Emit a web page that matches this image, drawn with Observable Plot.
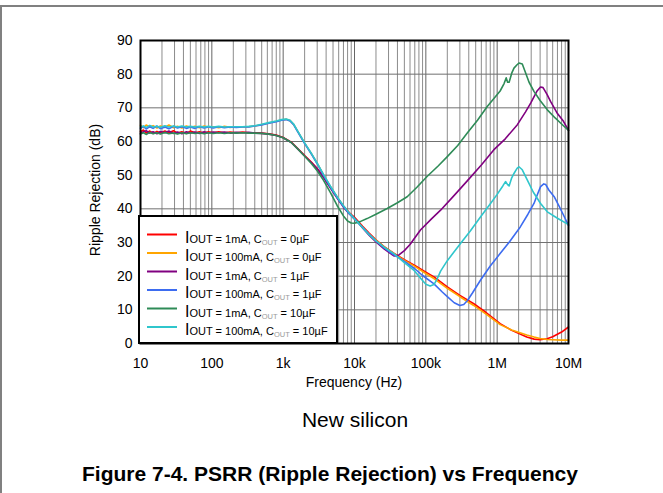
<!DOCTYPE html>
<html>
<head>
<meta charset="utf-8">
<script src="https://cdn.jsdelivr.net/npm/d3@7"></script>
<script src="https://cdn.jsdelivr.net/npm/@observablehq/plot@0.6"></script>
<style>
  body { margin: 0; background: #fff; }
  #wrap { position: relative; width: 663px; height: 493px; overflow: hidden; font-family: "Liberation Sans", Arial, sans-serif; }
  #chart { position: absolute; left: 0; top: 0; }
  #sub { position: absolute; left: 155px; width: 400px; top: 409px; text-align: center; font-size: 21px; line-height: 21px; color: #000; }
  #cap { position: absolute; left: 0; width: 660px; top: 463px; text-align: center; font-size: 21px; line-height: 21px; font-weight: bold; color: #000; }
  #border { position: absolute; left: 0; top: 5px; width: 663px; height: 488px; border-top: 2px solid #808080; border-left: 2px solid #808080; box-sizing: border-box; pointer-events: none; }
</style>
</head>
<body>
<div id="wrap">
  <div id="chart"></div>
  <div id="sub">New silicon</div>
  <div id="cap">Figure 7-4. PSRR (Ripple Rejection) vs Frequency</div>
  <div id="border"></div>
</div>
<script>
// ---- tick definitions ----
const xTicks = [10, 100, 1e3, 1e4, 1e5, 1e6, 1e7];
const xTickLabels = ["10", "100", "1k", "10k", "100k", "1M", "10M"];
const yTicks = [0, 10, 20, 30, 40, 50, 60, 70, 80, 90];

// ---- series (legend order) ----
const seriesIout = ["1mA", "100mA", "1mA", "100mA", "1mA", "100mA"];
const seriesCout = ["0µF", "0µF", "1µF", "1µF", "10µF", "10µF"];
const seriesColors = ["#ff0000", "#ffa500", "#800080", "#3d6cf0", "#2e8b57", "#2fc6cc"];

// [frequency Hz, ripple rejection dB]
const red = [
  [10,62.9],[11,63.4],[12,62.5],[13.5,63.1],[15,62.4],[17,63.0],[19,62.5],[22,63.1],[25,62.6],[29,63.2],
  [33,62.5],[38,62.9],[44,62.4],[50,63.1],[58,62.6],[67,62.9],[78,62.5],[90,62.9],[105,62.6],[125,62.9],
  [150,62.6],[180,62.8],[220,62.6],[270,62.8],[330,62.6],[400,62.6],[500,62.5],[630,62.3],[800,61.9],[1000,61.2],
  [1300,59.8],[1600,57.9],[2000,55.8],[2500,53.8],[3000,52.0],[3700,49.4],[4600,46.4],[5700,43.4],[7000,40.8],[8500,38.8],
  [10000,37.5],[13000,34.8],[16000,32.8],[20000,30.8],[26000,28.8],[35000,26.9],[50000,24.9],[70000,23.2],[100000,21.2],[130000,19.8],
  [200000,16.8],[300000,14.3],[470000,11.8],[700000,9.2],[1100000,5.9],[1600000,3.9],[2600000,1.9],[3300000,1.3],[4000000,1.1],[5000000,1.4],
  [6000000,2.0],[8000000,3.4],[10000000,4.9]
];
const orange = [
  [10,64.8],[11,64.1],[12,64.9],[13.5,64.3],[15,64.7],[17,64.0],[19,64.6],[22,64.2],[25,64.9],[29,64.1],
  [33,64.5],[38,64.0],[44,64.6],[50,64.2],[58,64.5],[67,64.1],[78,64.6],[90,64.2],[105,64.4],[125,64.1],
  [150,64.5],[180,64.2],[220,64.4],[270,64.3],[330,64.4],[400,64.6],[500,65.0],[630,65.5],[800,66.0],[950,66.4],
  [1100,66.6],[1250,66.2],[1400,65.1],[1600,63.0],[2000,59.5],[2500,56.3],[3000,53.5],[3700,50.0],[4600,46.6],[5700,43.5],
  [7000,40.8],[8500,38.6],[10000,37.0],[13000,34.6],[16000,32.6],[20000,30.7],[26000,28.7],[35000,26.8],[50000,24.7],[70000,22.9],
  [100000,20.8],[130000,19.3],[200000,16.4],[300000,13.9],[470000,11.3],[700000,8.7],[1100000,5.6],[1600000,4.0],[2600000,2.5],[3300000,1.9],
  [4000000,1.5],[5000000,1.2],[6000000,1.1],[8000000,1.0],[10000000,1.0]
];
const purple = [
  [10,62.4],[11,62.9],[12,63.2],[13.5,62.5],[15,62.9],[17,62.3],[19,63.0],[22,62.6],[25,63.1],[29,62.4],
  [33,62.8],[38,62.3],[44,62.9],[50,62.5],[58,62.8],[67,62.4],[78,62.9],[90,62.5],[105,62.8],[125,62.6],
  [150,62.8],[180,62.5],[220,62.7],[270,62.6],[330,62.7],[400,62.5],[500,62.4],[630,62.2],[800,61.8],[1000,61.1],
  [1300,59.7],[1600,57.8],[2000,55.7],[2500,53.7],[3000,51.9],[3700,49.3],[4600,46.2],[5700,43.2],[7000,40.5],[8500,38.5],
  [10000,37.2],[13000,34.3],[16000,32.2],[20000,30.2],[26000,28.1],[31000,26.9],[36000,26.0],[42000,26.3],[50000,27.6],[60000,29.4],
  [84000,33.7],[120000,37.0],[161000,39.6],[250000,44.0],[381000,48.3],[600000,53.0],[894000,57.5],[1300000,60.8],[1920000,65.0],[2500000,68.8],
  [2950000,71.4],[3600000,74.9],[4060000,76.2],[4400000,76.0],[5000000,74.0],[5600000,71.9],[7000000,68.3],[8500000,66.0],[10000000,63.3]
];
const blue = [
  [10,63.9],[11,64.5],[12,63.7],[13.5,64.4],[15,63.9],[17,64.6],[19,63.8],[22,64.3],[25,63.8],[29,64.5],
  [33,64.0],[38,64.4],[44,63.9],[50,64.3],[58,63.9],[67,64.4],[78,64.0],[90,64.3],[105,64.0],[125,64.4],
  [150,64.1],[180,64.3],[220,64.2],[270,64.3],[330,64.3],[400,64.6],[500,64.9],[630,65.4],[800,65.9],[950,66.3],
  [1100,66.5],[1250,66.1],[1400,65.0],[1600,62.9],[2000,59.4],[2500,56.2],[3000,53.4],[3700,49.9],[4600,46.5],[5700,43.4],
  [7000,40.7],[8500,38.5],[10000,36.9],[13000,34.5],[16000,32.5],[20000,30.5],[26000,28.4],[35000,26.4],[44000,25.2],[55000,23.8],
  [70000,22.2],[90000,20.2],[129000,17.8],[170000,15.3],[200000,13.9],[250000,12.1],[300000,11.3],[340000,11.6],[381000,12.7],[450000,15.0],
  [583000,18.8],[800000,23.0],[1100000,26.7],[1500000,30.3],[2120000,34.7],[2700000,38.4],[3280000,41.6],[3700000,44.5],[4060000,46.6],[4500000,47.4],
  [4800000,47.2],[5300000,45.6],[6300000,43.6],[7500000,40.5],[8800000,37.5],[10000000,35.0]
];
const green = [
  [10,62.2],[11,62.6],[12,62.1],[13.5,62.7],[15,62.3],[17,62.6],[19,62.2],[22,62.7],[25,62.3],[29,62.5],
  [33,62.2],[38,62.6],[44,62.3],[50,62.6],[58,62.4],[67,62.6],[78,62.3],[90,62.6],[105,62.4],[125,62.6],
  [150,62.4],[180,62.6],[220,62.5],[270,62.6],[330,62.5],[400,62.5],[500,62.4],[630,62.2],[800,61.8],[1000,61.1],
  [1300,59.7],[1600,57.8],[2000,55.6],[2500,53.4],[3000,51.3],[3700,48.4],[4600,44.8],[5700,41.0],[7000,37.9],[8000,36.4],
  [9000,35.8],[10000,35.7],[12000,36.2],[15000,37.1],[20000,38.4],[28700,40.1],[40000,41.8],[54800,43.6],[75000,46.4],[104000,49.6],
  [150000,52.8],[200000,55.5],[280000,58.8],[381000,62.5],[530000,66.3],[726000,70.4],[900000,72.8],[1100000,75.0],[1250000,77.2],[1340000,78.9],
  [1400000,77.6],[1470000,77.6],[1600000,80.3],[1720000,81.8],[1900000,82.8],[2020000,83.3],[2250000,83.0],[2500000,80.4],[2800000,77.6],[3280000,74.9],
  [4000000,72.2],[5050000,69.4],[6500000,67.0],[8000000,65.2],[10000000,63.3]
];
const cyan = [
  [10,64.3],[11,64.6],[12,64.2],[13.5,64.8],[15,64.3],[17,64.5],[19,64.2],[22,64.7],[25,64.3],[29,64.6],
  [33,64.3],[38,64.6],[44,64.3],[50,64.5],[58,64.3],[67,64.5],[78,64.3],[90,64.5],[105,64.3],[125,64.5],
  [150,64.3],[180,64.4],[220,64.4],[270,64.4],[330,64.5],[400,64.7],[500,65.1],[630,65.6],[800,66.1],[950,66.5],
  [1100,66.7],[1250,66.3],[1400,65.2],[1600,63.1],[2000,59.6],[2500,56.4],[3000,53.6],[3700,50.1],[4600,46.7],[5700,43.6],
  [7000,40.9],[8500,38.7],[10000,37.1],[13000,34.4],[16000,32.3],[20000,30.5],[26000,28.6],[36000,26.6],[50000,24.0],[67600,21.8],
  [85000,19.3],[100000,17.6],[115000,17.1],[130000,17.5],[145000,19.3],[161000,21.5],[200000,24.6],[306000,29.7],[420000,33.4],[583000,37.6],
  [807000,41.6],[1000000,44.3],[1200000,46.8],[1310000,48.1],[1400000,47.2],[1470000,46.8],[1600000,49.2],[1720000,50.5],[1900000,52.0],[2020000,52.5],
  [2250000,51.6],[2640000,48.6],[3200000,45.0],[4060000,41.6],[5050000,39.1],[7000000,37.2],[10000000,35.3]
];
const seriesData = [red, orange, purple, blue, green, cyan];

// ---- grid positions derived from decade ticks ----
const minorX = [];
for (const d of xTicks.slice(0, -1)) for (let k = 2; k <= 9; k++) minorX.push(d * k);

const lineMarks = seriesData.map((s, i) =>
  Plot.line(s, {x: d => d[0], y: d => d[1], stroke: seriesColors[i], strokeWidth: 1.6})
);

const chart = Plot.plot({
  width: 663,
  height: 395,
  marginLeft: 140,
  marginRight: 95,
  marginTop: 40,
  marginBottom: 52,
  style: {fontFamily: "'Liberation Sans', Arial, sans-serif", fontSize: "14px", color: "#000", background: "transparent"},
  x: {type: "log", domain: [10, 1e7], ticks: xTicks, tickFormat: d => xTickLabels[xTicks.indexOf(d)], tickSize: 0, tickPadding: 15, label: null},
  y: {domain: [0, 90], ticks: yTicks, tickSize: 0, tickPadding: 8, label: null},
  marks: [
    Plot.ruleX(minorX, {stroke: "#8c8c8c", strokeWidth: 1}),
    Plot.ruleX(xTicks, {stroke: "#666", strokeWidth: 1}),
    Plot.ruleY(yTicks, {stroke: "#707070", strokeWidth: 1}),
    ...lineMarks,
    Plot.frame({stroke: "#000", strokeWidth: 2})
  ]
});
document.getElementById("chart").appendChild(chart);

const svg = d3.select(chart);
const xs = chart.scale("x"), ys = chart.scale("y");
const left = xs.apply(10), bottom = ys.apply(0);

// axis titles
svg.append("text").attr("x", 354).attr("y", 387).attr("text-anchor", "middle")
  .attr("font-size", 14).attr("fill", "#000").text("Frequency (Hz)");
svg.append("text").attr("transform", "translate(100,190) rotate(-90)").attr("text-anchor", "middle")
  .attr("font-size", 14).attr("fill", "#000").text("Ripple Rejection (dB)");

// legend
const lg = svg.append("g").attr("text-anchor", "start");
lg.append("rect").attr("x", left - 1).attr("y", 216).attr("width", 198).attr("height", bottom - 216)
  .attr("fill", "#fff").attr("stroke", "#000").attr("stroke-width", 2);
seriesColors.forEach((c, i) => {
  const y = 234.5 + i * 18.5;
  lg.append("line").attr("x1", 147).attr("x2", 177).attr("y1", y).attr("y2", y)
    .attr("stroke", c).attr("stroke-width", 2);
  const t = lg.append("text").attr("x", 185).attr("y", y + 8).attr("fill", "#000").attr("text-anchor", "start");
  t.append("tspan").attr("font-size", 16).text("I");
  t.append("tspan").attr("font-size", 11).text("OUT = " + seriesIout[i] + ", C");
  t.append("tspan").attr("font-size", 7.5).attr("dy", 2).attr("fill", "#9a9a9a").text("OUT");
  t.append("tspan").attr("font-size", 11).attr("dy", -2).text(" = " + seriesCout[i]);
});
</script>
</body>
</html>
